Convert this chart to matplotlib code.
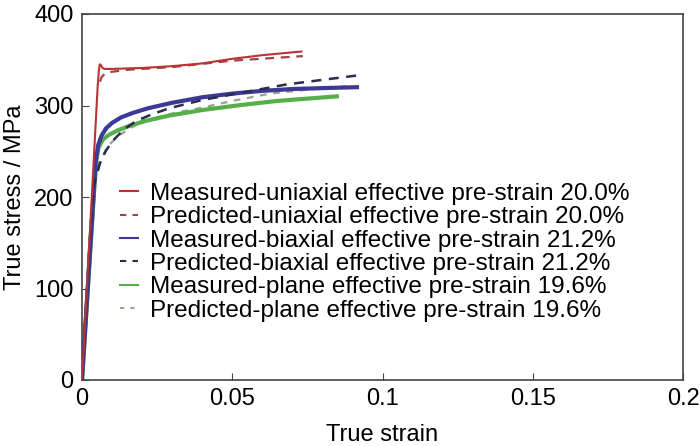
import matplotlib
matplotlib.use("Agg")
import matplotlib.pyplot as plt
from matplotlib.lines import Line2D

plt.rcParams['font.family'] = ['Liberation Sans', 'DejaVu Sans']

red_meas_x = [0, 0.0052, 0.0056, 0.0059, 0.0063, 0.0068, 0.0075, 0.01, 0.02, 0.03, 0.04, 0.05, 0.06, 0.073]
red_meas_y = [0, 320, 338, 345, 344, 341, 340, 340, 341, 343, 346, 351, 355, 359]
red_pred_x = [0.006, 0.0065, 0.008, 0.015, 0.03, 0.05, 0.0735]
red_pred_y = [326, 331, 336, 339, 342, 349, 354]
blue_meas_x = [0, 0.004, 0.0046, 0.0054, 0.0065, 0.008, 0.01, 0.013, 0.017, 0.022, 0.03, 0.04, 0.05, 0.06, 0.07, 0.08, 0.0915]
blue_meas_y = [0, 210, 240, 257, 267, 275, 281, 287, 292, 297, 303, 309, 313, 316, 318, 319, 320]
blue_pred_x = [0, 0.0025, 0.0038, 0.006, 0.008, 0.0104, 0.014, 0.018, 0.023, 0.029, 0.04, 0.0515, 0.068, 0.092]
blue_pred_y = [0, 150, 211, 237, 251, 262, 274, 283, 290, 297, 306, 313, 323, 333]
green_meas_x = [0, 0.0042, 0.0048, 0.0055, 0.007, 0.009, 0.012, 0.016, 0.021, 0.029, 0.04, 0.0515, 0.065, 0.0848]
green_meas_y = [0, 215, 240, 254, 263, 268, 273, 278, 283, 289, 295, 300, 305, 310]
green_pred_x = [0, 0.003, 0.0045, 0.006, 0.009, 0.0126, 0.018, 0.0237, 0.031, 0.0404, 0.05, 0.0626, 0.08, 0.088]
green_pred_y = [0, 170, 220, 240, 257, 268, 279, 286, 292, 298, 305, 313, 319, 321]

labels = [
    "Measured-uniaxial effective pre-strain 20.0%",
    "Predicted-uniaxial effective pre-strain 20.0%",
    "Measured-biaxial effective pre-strain 21.2%",
    "Predicted-biaxial effective pre-strain 21.2%",
    "Measured-plane effective pre-strain 19.6%",
    "Predicted-plane effective pre-strain 19.6%",
]
x_ticks = [0, 0.05, 0.1, 0.15, 0.2]
x_tick_labels = ["0", "0.05", "0.1", "0.15", "0.2"]
y_ticks = [0, 100, 200, 300, 400]

c_red, c_redp = '#b83236', '#a64141'
c_blue, c_bluep = '#3c3a96', '#2a2c4e'
c_green, c_greenp = '#55b04a', '#9aa38e'

fig = plt.figure(figsize=(7, 4.46), dpi=100)
ax = fig.add_axes([82/700, 66/446, 601/700, 366/446])

ax.plot(green_pred_x, green_pred_y, color=c_greenp, lw=1.6, ls=(0, (3, 3)), zorder=2)
ax.plot(green_meas_x, green_meas_y, color=c_green, lw=3.0, zorder=3)
ax.plot(blue_meas_x, blue_meas_y, color=c_blue, lw=3.0, zorder=3)
ax.plot(blue_pred_x, blue_pred_y, color=c_bluep, lw=1.8, ls=(0, (4, 3)), zorder=4)
ax.plot(red_pred_x, red_pred_y, color=c_redp, lw=1.6, ls=(0, (4, 3)), zorder=4)
ax.plot(red_meas_x, red_meas_y, color=c_red, lw=1.5, zorder=5)

handles = [
    Line2D([], [], color=c_red, lw=1.5),
    Line2D([], [], color=c_redp, lw=1.5, ls=(0, (3, 3))),
    Line2D([], [], color=c_blue, lw=1.5),
    Line2D([], [], color=c_bluep, lw=1.5, ls=(0, (3, 3))),
    Line2D([], [], color=c_green, lw=1.5),
    Line2D([], [], color=c_greenp, lw=1.5, ls=(0, (2, 3))),
]
ax.legend(handles, labels,
          loc='upper left', bbox_to_anchor=(0.047, 0.566), frameon=False,
          fontsize=17.5, handlelength=0.75, handletextpad=0.5, labelspacing=0.06,
          borderaxespad=0)

ax.set_xlim(0, 0.2)
ax.set_ylim(0, 400)
ax.set_xticks(x_ticks)
ax.set_xticklabels(x_tick_labels)
ax.set_yticks(y_ticks)
ax.tick_params(direction='in', length=5, labelsize=17, color='#444444', labelcolor='black', pad=6)
for s in ax.spines.values():
    s.set_color('#444444')
    s.set_linewidth(1.2)
ax.set_xlabel("True strain", fontsize=17, labelpad=10)
ax.set_ylabel("True stress / MPa", fontsize=17, labelpad=6)

fig.savefig("out.png", dpi=100)
